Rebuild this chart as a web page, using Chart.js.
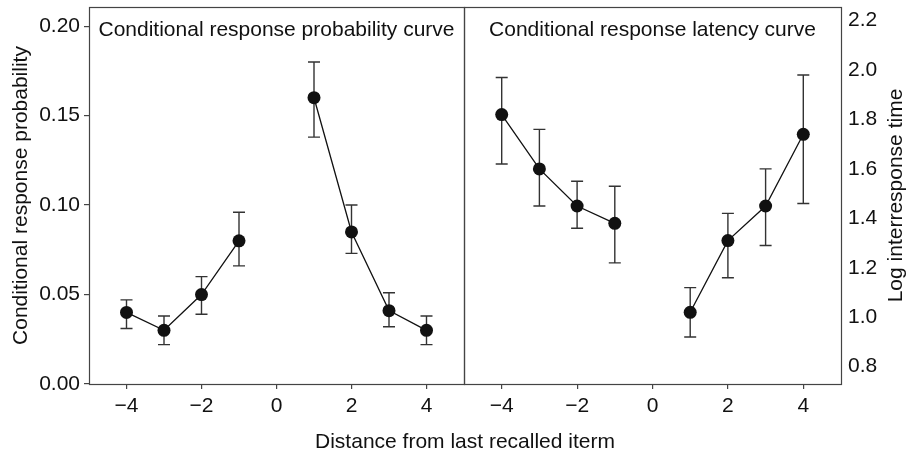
<!DOCTYPE html>
<html>
<head>
<meta charset="utf-8">
<script src="https://cdn.jsdelivr.net/npm/chart.js@4.4.1/dist/chart.umd.min.js"></script>
<style>
  body { margin: 0; background: #fff; }
  #wrap { position: relative; width: 906px; height: 451px; background: #fff; overflow: hidden; }
  canvas { position: absolute; top: -3px; }
  #crp { left: 0; }
  #lat { left: 454px; }
  #xtitle {
    position: absolute; left: 0; width: 930px; top: 430px;
    text-align: center; font: 21px/21px "Liberation Sans", Arial, sans-serif; color: #111;
  }
</style>
</head>
<body>
<div id="wrap">
  <canvas id="crp" width="474" height="454"></canvas>
  <canvas id="lat" width="452" height="454"></canvas>
  <div id="xtitle">Distance from last recalled iterm</div>
</div>
<script>
const distance = [-4, -3, -2, -1, 1, 2, 3, 4];

const crpMean = [0.040, 0.030, 0.050, 0.080, 0.160, 0.085, 0.041, 0.030];
const crpLow  = [0.031, 0.022, 0.039, 0.066, 0.138, 0.073, 0.032, 0.022];
const crpHigh = [0.047, 0.038, 0.060, 0.096, 0.180, 0.100, 0.051, 0.038];

const latMean = [1.82, 1.60, 1.45, 1.38, 1.02, 1.31, 1.45, 1.74];
const latLow  = [1.62, 1.45, 1.36, 1.22, 0.92, 1.16, 1.29, 1.46];
const latHigh = [1.97, 1.76, 1.55, 1.53, 1.12, 1.42, 1.60, 1.98];

const distanceTicks = [-4, -2, 0, 2, 4];
const crpTicks = [0, 0.05, 0.10, 0.15, 0.20];
const latTicks = [0.8, 1.0, 1.2, 1.4, 1.6, 1.8, 2.0, 2.2];

const FONT = '"Liberation Sans", Arial, Helvetica, sans-serif';
const INK = '#111';
const FRAME = '#444';

// negative and positive lags are drawn as two separate runs
function runs(mean, low, high) {
  const pts = distance.map((d, i) => ({ x: d, y: mean[i], lo: low[i], hi: high[i] }));
  return [pts.filter(p => p.x < 0), pts.filter(p => p.x > 0)].map(data => ({
    data,
    borderColor: INK,
    borderWidth: 1.3,
    backgroundColor: INK,
    pointRadius: 6.5,
    pointBorderWidth: 0,
    pointHoverRadius: 6.5,
    tension: 0
  }));
}

const errorBars = {
  id: 'errorBars',
  beforeDatasetsDraw(chart) {
    const { ctx, scales: { x, y } } = chart;
    ctx.save();
    ctx.strokeStyle = '#333';
    ctx.lineWidth = 1.4;
    chart.data.datasets.forEach(ds => {
      ds.data.forEach(p => {
        const px = x.getPixelForValue(p.x);
        const top = y.getPixelForValue(p.hi);
        const bot = y.getPixelForValue(p.lo);
        ctx.beginPath();
        ctx.moveTo(px, top); ctx.lineTo(px, bot);
        ctx.moveTo(px - 6, top); ctx.lineTo(px + 6, top);
        ctx.moveTo(px - 6, bot); ctx.lineTo(px + 6, bot);
        ctx.stroke();
      });
    });
    ctx.restore();
  }
};

// box around the plot area, the panel heading and (optionally) a side title
const panelFrame = {
  id: 'panelFrame',
  afterDraw(chart, args, opts) {
    const { ctx, chartArea: a } = chart;
    ctx.save();
    ctx.strokeStyle = FRAME;
    ctx.lineWidth = 1.2;
    ctx.strokeRect(Math.round(a.left) + 0.5, Math.round(a.top) + 0.5,
      Math.round(a.right - a.left), Math.round(a.bottom - a.top));
    ctx.font = '21px ' + FONT;
    ctx.fillStyle = INK;
    ctx.textAlign = 'center';
    ctx.textBaseline = 'alphabetic';
    ctx.fillText(opts.title, (a.left + a.right) / 2, a.top + 29);
    if (opts.sideTitle) {
      ctx.translate(chart.width - 9.5, (a.top + a.bottom) / 2);
      ctx.rotate(-Math.PI / 2);
      ctx.textBaseline = 'middle';
      ctx.fillText(opts.sideTitle, 0, 0);
    }
    ctx.restore();
  }
};

function fmtDistance(v) {
  return v < 0 ? '\u2212' + Math.abs(v) : String(v);
}

// fixed axis sizes; drop the label overhang padding so the plot box stays put
function fixSize(prop, size) {
  return s => {
    s[prop] = size;
    s.paddingTop = s.paddingBottom = s.paddingLeft = s.paddingRight = 0;
  };
}

function xScale() {
  return {
    type: 'linear',
    min: -5,
    max: 5,
    afterBuildTicks: s => { s.ticks = distanceTicks.map(v => ({ value: v })); },
    afterFit: fixSize('height', 67),
    grid: { drawOnChartArea: false, drawTicks: true, tickLength: 5, color: FRAME, lineWidth: 1.2 },
    border: { display: false },
    ticks: { color: INK, font: { family: FONT, size: 21 }, padding: 5, maxRotation: 0, callback: fmtDistance }
  };
}

new Chart(document.getElementById('crp'), {
  type: 'line',
  data: { datasets: runs(crpMean, crpLow, crpHigh) },
  options: {
    responsive: false,
    animation: false,
    devicePixelRatio: 1,
    layout: { padding: { top: 10, right: 10, bottom: 0, left: 0 } },
    plugins: {
      legend: { display: false },
      tooltip: { enabled: false },
      panelFrame: { title: 'Conditional response probability curve' }
    },
    scales: {
      x: xScale(),
      y: {
        type: 'linear',
        min: 0,
        max: 0.2107,
        afterBuildTicks: s => { s.ticks = crpTicks.map(v => ({ value: v })); },
        afterFit: fixSize('width', 89),
        grid: { drawOnChartArea: false, drawTicks: true, tickLength: 5, color: FRAME, lineWidth: 1.2 },
        border: { display: false },
        ticks: { color: INK, font: { family: FONT, size: 21 }, padding: 4, callback: v => v.toFixed(2) },
        title: {
          display: true,
          text: 'Conditional response probability',
          color: INK,
          font: { family: FONT, size: 21 },
          padding: { top: 9, bottom: 0 }
        }
      }
    }
  },
  plugins: [errorBars, panelFrame]
});

new Chart(document.getElementById('lat'), {
  type: 'line',
  data: { datasets: runs(latMean, latLow, latHigh) },
  options: {
    responsive: false,
    animation: false,
    devicePixelRatio: 1,
    layout: { padding: { top: 10, right: 0, bottom: 0, left: 10 } },
    plugins: {
      legend: { display: false },
      tooltip: { enabled: false },
      panelFrame: { title: 'Conditional response latency curve', sideTitle: 'Log interresponse time' }
    },
    scales: {
      x: xScale(),
      y: {
        type: 'linear',
        position: 'right',
        min: 0.73,
        max: 2.255,
        afterBuildTicks: s => { s.ticks = latTicks.map(v => ({ value: v })); },
        afterFit: fixSize('width', 65),
        grid: { drawOnChartArea: false, drawTicks: false, color: FRAME },
        border: { display: false },
        ticks: { color: INK, font: { family: FONT, size: 21 }, padding: 7, callback: v => v.toFixed(1) }
      }
    }
  },
  plugins: [errorBars, panelFrame]
});
</script>
</body>
</html>
